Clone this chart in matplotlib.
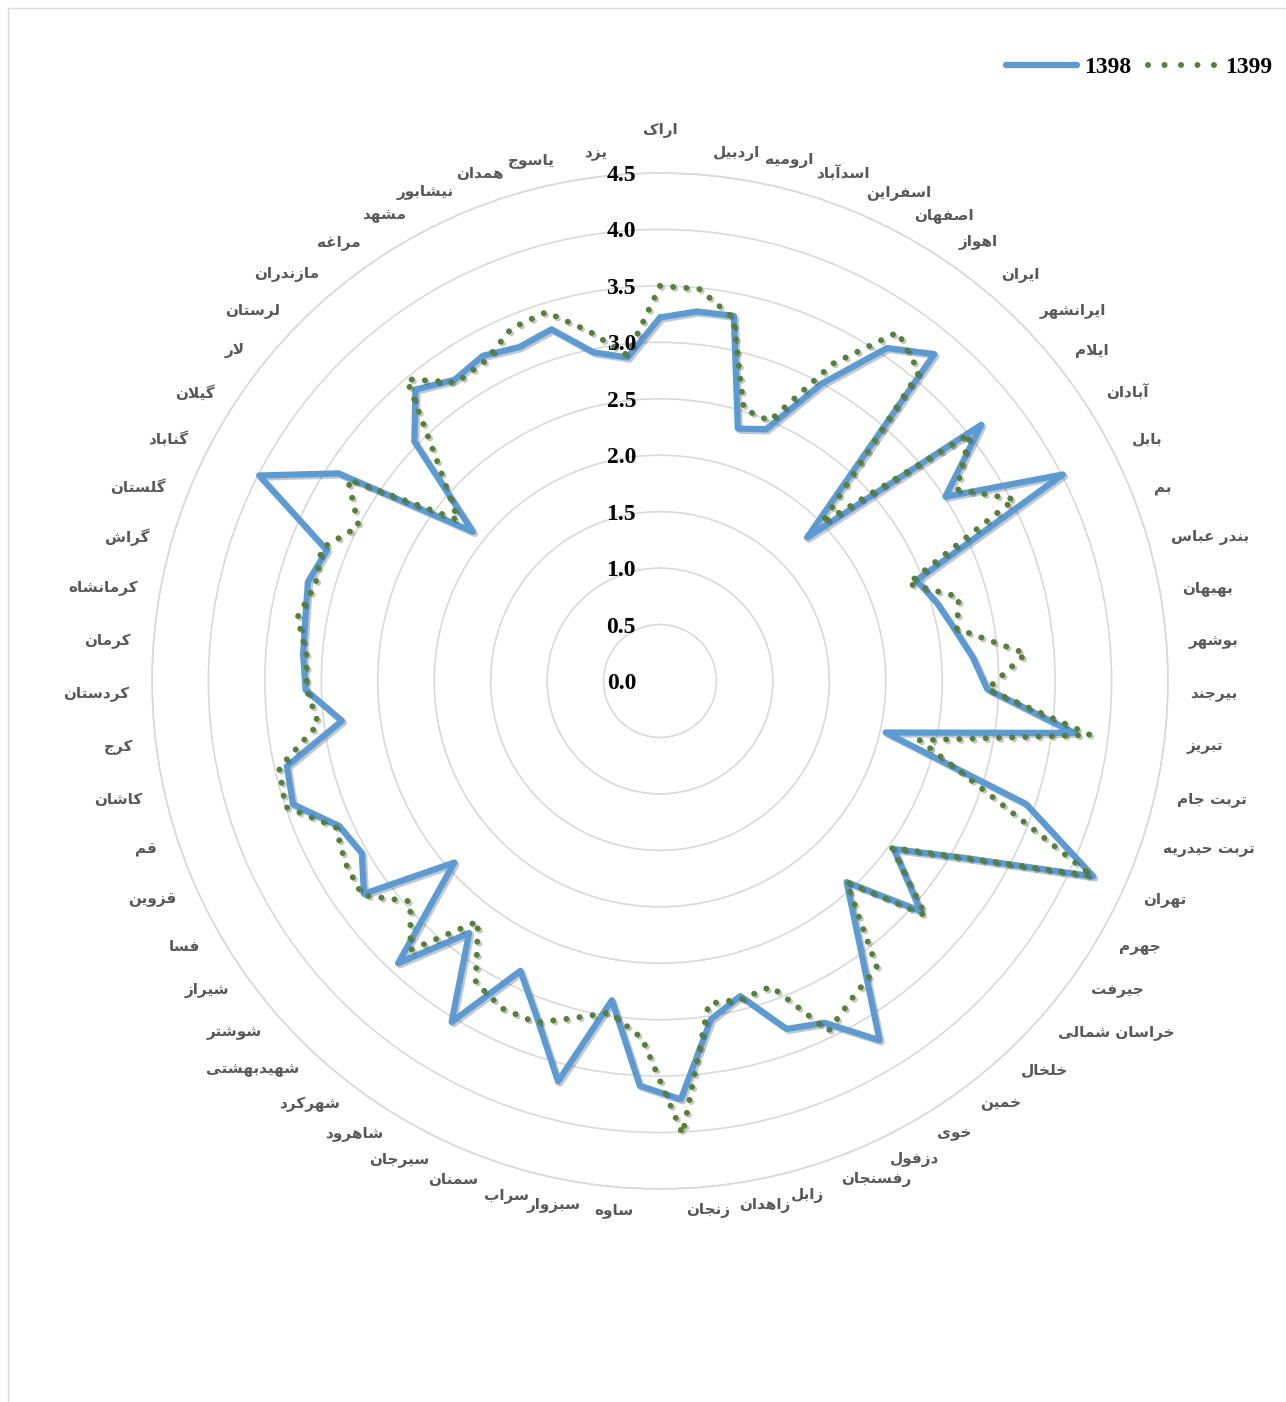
import numpy as np
import matplotlib
matplotlib.use("Agg")
import matplotlib.pyplot as plt
import matplotlib.patheffects as pe
from matplotlib.transforms import offset_copy
from matplotlib.patches import Rectangle
from matplotlib.lines import Line2D

# ---------------- data ----------------
cities = ["اراک", "اردبیل", "ارومیه", "اسدآباد", "اسفراین", "اصفهان", "اهواز", "ایران",
          "ایرانشهر", "ایلام", "آبادان", "بابل", "بم", "بندر عباس", "بهبهان", "بوشهر",
          "بیرجند", "تبریز", "تربت جام", "تربت حیدریه", "تهران", "جهرم", "جیرفت",
          "خراسان شمالی", "خلخال", "خمین", "خوی", "دزفول", "رفسنجان", "زابل", "زاهدان",
          "زنجان", "ساوه", "سبزوار", "سراب", "سمنان", "سیرجان", "شاهرود", "شهرکرد",
          "شهیدبهشتی", "شوشتر", "شیراز", "فسا", "قزوین", "قم", "کاشان", "کرج", "کردستان",
          "کرمان", "کرمانشاه", "گراش", "گلستان", "گناباد", "گیلان", "لار", "لرستان",
          "مازندران", "مراغه", "مشهد", "نیشابور", "همدان", "یاسوج", "یزد"]

v1398 = [3.22, 3.29, 3.30, 2.34, 2.42, 3.00, 3.57, 3.78, 1.82, 3.64, 3.01, 4.01, 2.44,
         2.55, 2.65, 2.78, 2.90, 3.70, 2.05, 3.42, 4.21, 3.14, 2.55, 3.08, 2.43, 2.93,
         3.73, 3.36, 3.28, 2.88, 3.03, 3.71, 3.59, 2.86, 3.66, 3.18, 2.85, 3.54, 2.80,
         3.41, 2.43, 3.23, 3.05, 3.12, 3.43, 3.39, 2.84, 3.14, 3.17, 3.19, 3.24, 3.17,
         3.99, 3.39, 2.12, 3.04, 3.37, 3.23, 3.28, 3.21, 3.26, 2.97, 2.88]

v1399 = [3.50, 3.49, 3.28, 2.52, 2.50, 3.20, 3.74, 3.57, 2.00, 3.51, 3.13, 3.53, 2.36,
         2.75, 2.67, 3.25, 2.90, 3.84, 2.36, 3.02, 4.20, 3.14, 2.53, 3.14, 2.43, 3.18,
         3.28, 3.44, 2.88, 2.91, 2.89, 4.02, 3.17, 2.97, 3.08, 3.22, 3.22, 3.13, 2.67,
         3.25, 2.95, 3.25, 3.22, 3.15, 3.50, 3.46, 3.05, 3.13, 3.14, 3.26, 3.17, 3.22,
         3.00, 3.29, 2.29, 2.74, 3.49, 3.20, 3.23, 3.39, 3.42, 3.16, 2.90]

series_names = ["1398", "1399"]
r_ticks = [0.0, 0.5, 1.0, 1.5, 2.0, 2.5, 3.0, 3.5, 4.0, 4.5]

# ---------------- Persian shaping (matplotlib has no complex text layout) ----------------
DUAL = {'ب': 0xFE8F, 'ت': 0xFE95, 'ث': 0xFE99, 'ج': 0xFE9D, 'ح': 0xFEA1, 'خ': 0xFEA5,
        'س': 0xFEB1, 'ش': 0xFEB5, 'ص': 0xFEB9, 'ض': 0xFEBD, 'ط': 0xFEC1, 'ظ': 0xFEC5,
        'ع': 0xFEC9, 'غ': 0xFECD, 'ف': 0xFED1, 'ق': 0xFED5, 'ك': 0xFED9, 'ل': 0xFEDD,
        'م': 0xFEE1, 'ن': 0xFEE5, 'ه': 0xFEE9, 'ي': 0xFEF1, 'پ': 0xFB56, 'چ': 0xFB7A,
        'ک': 0xFB8E, 'گ': 0xFB92, 'ی': 0xFBFC}
RIGHT = {'ا': 0xFE8D, 'آ': 0xFE81, 'د': 0xFEA9, 'ذ': 0xFEAB, 'ر': 0xFEAD, 'ز': 0xFEAF,
         'و': 0xFEED, 'ژ': 0xFB8A}


def shape(s):
    out = []
    i, n = 0, len(s)
    while i < n:
        c = s[i]
        pj = i > 0 and s[i - 1] in DUAL
        if c == 'ل' and i + 1 < n and s[i + 1] in ('ا', 'آ'):
            if s[i + 1] == 'ا':
                out.append('\uFEFC' if pj else '\uFEFB')
            else:
                out.append('\uFEF6' if pj else '\uFEF5')
            i += 2
            continue
        if c in DUAL:
            nj = i + 1 < n and (s[i + 1] in DUAL or s[i + 1] in RIGHT)
            off = 3 if (pj and nj) else 1 if pj else 2 if nj else 0
            out.append(chr(DUAL[c] + off))
        elif c in RIGHT:
            out.append(chr(RIGHT[c] + (1 if pj else 0)))
        else:
            out.append(c)
        i += 1
    return ''.join(reversed(out))


# ---------------- figure ----------------
W, H = 1286, 1402
fig = plt.figure(figsize=(W / 100, H / 100), dpi=100)
fig.patch.set_facecolor("white")

cx, cy, R = 660, 681, 508
ax = fig.add_axes([(cx - R) / W, (H - cy - R) / H, 2 * R / W, 2 * R / H], projection="polar")
ax.set_theta_zero_location("N")
ax.set_theta_direction(-1)
ax.set_ylim(0, 4.5)

n = len(cities)
theta = np.linspace(0, 2 * np.pi, n, endpoint=False)
th_c = np.append(theta, theta[0])

ax.set_xticks([])
ax.set_yticks(r_ticks[1:])
ax.set_yticklabels([])
ax.yaxis.grid(True, color="#d9d9d9", lw=1.2)
ax.spines["polar"].set_color("#d9d9d9")
ax.spines["polar"].set_linewidth(1.2)
ax.tick_params(axis="y", length=0)

shadow = [pe.SimpleLineShadow(offset=(1.5, -1.5), shadow_color="black", alpha=0.22),
          pe.Normal()]

blue, green = "#5B9BD5", "#548235"
l1, = ax.plot(th_c, np.append(v1398, v1398[0]), color=blue, lw=4.5,
              solid_joinstyle="round", solid_capstyle="round", path_effects=shadow,
              zorder=3, label=series_names[0])
l2, = ax.plot(th_c, np.append(v1399, v1399[0]), color=green, lw=4.3,
              linestyle=(0, (0.01, 2.2)), dash_capstyle="round", path_effects=shadow,
              zorder=4, label=series_names[1])

# radial tick labels
tick_tr = offset_copy(ax.transData, fig=fig, x=-24, y=-8, units="dots")
for r in r_ticks:
    ax.text(0, r, f"{r:.1f}", transform=tick_tr, ha="right", va="baseline",
            fontsize=17, fontweight="bold", family="Liberation Serif", color="black",
            zorder=5)

# category labels
for i, (t, name) in enumerate(zip(theta, cities)):
    deg = np.degrees(t)
    if i == 0:
        ha, rr = "center", 4.88
    elif deg < 180:
        ha, rr = "left", 4.70
    else:
        ha, rr = "right", 4.70
    ax.text(t, rr, shape(name), ha=ha, va="center", fontsize=11, fontweight="bold",
            family="DejaVu Sans", color="#595959", clip_on=False)

# legend (proxy handles so the legend dots are spaced like the original)
h1 = Line2D([], [], color=blue, lw=4.5, solid_capstyle="round")
h2 = Line2D([], [], color=green, lw=4.3, linestyle=(0, (0.01, 2.75)), dash_capstyle="round")
fig.legend(handles=[h1, h2], labels=series_names, loc="center left",
           bbox_to_anchor=(1006 / W, 1 - 67 / H), ncol=2, frameon=False,
           prop={"family": "Liberation Serif", "weight": "bold", "size": 17},
           handlelength=3.0, handletextpad=0.3, columnspacing=0.7,
           borderaxespad=0, borderpad=0)

# chart border
fig.add_artist(Rectangle((8 / W, -0.01), 1.02, 1 - 8 / H + 0.01, transform=fig.transFigure,
                         fill=False, edgecolor="#d9d9d9", lw=1.0))

fig.savefig("out.png", dpi=100, facecolor="white")
